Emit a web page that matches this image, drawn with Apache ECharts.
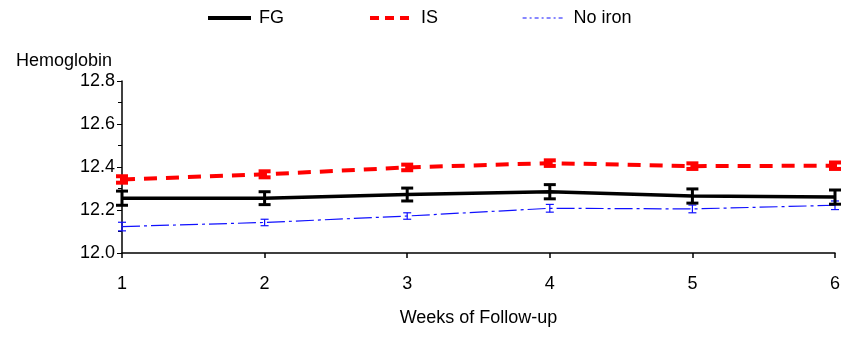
<!DOCTYPE html>
<html>
<head>
<meta charset="utf-8">
<script src="https://cdn.jsdelivr.net/npm/echarts@6/dist/echarts.min.js"></script>
<style>
  html, body { margin: 0; padding: 0; background: #fff; }
  #chart { width: 845px; height: 339px; }
</style>
</head>
<body>
<div id="chart"></div>
<script>
const weeks = [1, 2, 3, 4, 5, 6]
const fgMean = [12.255, 12.255, 12.272, 12.285, 12.265, 12.26]
const fgErr = [0.033, 0.03, 0.03, 0.033, 0.033, 0.033]
const isMean = [12.342, 12.366, 12.398, 12.418, 12.404, 12.406]
const isErr = [0.015, 0.014, 0.013, 0.013, 0.013, 0.015]
const noIronMean = [12.123, 12.142, 12.172, 12.208, 12.205, 12.222]
const noIronErr = [0.02, 0.015, 0.015, 0.018, 0.018, 0.02]
const yTicks = [12.0, 12.2, 12.4, 12.6, 12.8]

const font = 'Liberation Sans, Arial, sans-serif'

function pairs(mean) {
  return weeks.map((w, i) => [w, mean[i]])
}
function errData(mean, err) {
  return weeks.map((w, i) => [w, mean[i] - err[i], mean[i] + err[i]])
}
function errSeries(name, mean, err, color, width, cap) {
  return {
    type: 'custom',
    name: name + ' err',
    data: errData(mean, err),
    silent: true,
    z: 3,
    renderItem(params, api) {
      const lo = api.coord([api.value(0), api.value(1)])
      const hi = api.coord([api.value(0), api.value(2)])
      const st = { stroke: color, lineWidth: width }
      return {
        type: 'group',
        children: [
          { type: 'line', shape: { x1: lo[0], y1: lo[1], x2: hi[0], y2: hi[1] }, style: st },
          { type: 'line', shape: { x1: lo[0] - cap, y1: lo[1], x2: lo[0] + cap, y2: lo[1] }, style: st },
          { type: 'line', shape: { x1: hi[0] - cap, y1: hi[1], x2: hi[0] + cap, y2: hi[1] }, style: st }
        ]
      }
    }
  }
}

const chart = echarts.init(document.getElementById('chart'))
const option = {
  animation: false,
  title: {
    text: 'Hemoglobin',
    left: 11,
    top: 47,
    textStyle: { fontFamily: font, fontSize: 18, fontWeight: 'normal', color: '#000' }
  },
  legend: {
    left: 206,
    top: 9,
    padding: 0,
    itemWidth: 43,
    itemHeight: 14,
    itemGap: 84,
    itemStyle: { opacity: 0 },
    textStyle: { fontFamily: font, fontSize: 18, color: '#000', padding: [0, 0, 0, 3] },
    data: [
      { name: 'FG', lineStyle: { width: 4, color: '#000' } },
      { name: 'IS', lineStyle: { width: 4, color: '#ff0000', type: [9, 6] } },
      { name: 'No iron', lineStyle: { width: 1.2, color: '#1010ff', type: [4, 3, 2, 3] } }
    ]
  },
  grid: { left: 122, right: 10, top: 81, bottom: 86 },
  xAxis: {
    type: 'value',
    min: 1,
    max: 6,
    interval: 1,
    name: 'Weeks of Follow-up',
    nameLocation: 'middle',
    nameGap: 56,
    nameTextStyle: { fontFamily: font, fontSize: 18, color: '#000' },
    axisLine: { show: true, onZero: false, lineStyle: { color: '#000', width: 1.5 } },
    axisTick: { show: true, inside: false, length: 5, lineStyle: { color: '#000', width: 1.5 } },
    axisLabel: { margin: 22, fontFamily: font, fontSize: 18, color: '#000' },
    splitLine: { show: false }
  },
  yAxis: {
    type: 'value',
    min: 12.0,
    max: 12.8,
    interval: 0.2,
    axisLine: { show: true, onZero: false, lineStyle: { color: '#000', width: 1.5 } },
    axisTick: { show: true, length: 5, lineStyle: { color: '#000', width: 1 } },
    minorTick: { show: true, splitNumber: 2, length: 4, lineStyle: { color: '#000', width: 1 } },
    axisLabel: {
      margin: 7,
      fontFamily: font,
      fontSize: 18,
      color: '#000',
      formatter: v => yTicks.some(t => Math.abs(t - v) < 1e-6) ? v.toFixed(1) : ''
    },
    splitLine: { show: false }
  },
  series: [
    {
      name: 'No iron',
      type: 'line',
      data: pairs(noIronMean),
      symbol: 'none',
      z: 2,
      lineStyle: { color: '#1010ff', width: 1.2, type: [18, 4, 3, 4] },
      itemStyle: { color: '#1010ff' }
    },
    errSeries('No iron', noIronMean, noIronErr, '#1010ff', 1.2, 4),
    {
      name: 'IS',
      type: 'line',
      data: pairs(isMean),
      symbol: 'none',
      z: 2,
      lineStyle: { color: '#ff0000', width: 4, type: [13, 9] },
      itemStyle: { color: '#ff0000' }
    },
    errSeries('IS', isMean, isErr, '#ff0000', 4, 6),
    {
      name: 'FG',
      type: 'line',
      data: pairs(fgMean),
      symbol: 'none',
      z: 2,
      lineStyle: { color: '#000', width: 3.5 },
      itemStyle: { color: '#000' }
    },
    errSeries('FG', fgMean, fgErr, '#000', 3, 6)
  ]
}
chart.setOption(option)
</script>
</body>
</html>
